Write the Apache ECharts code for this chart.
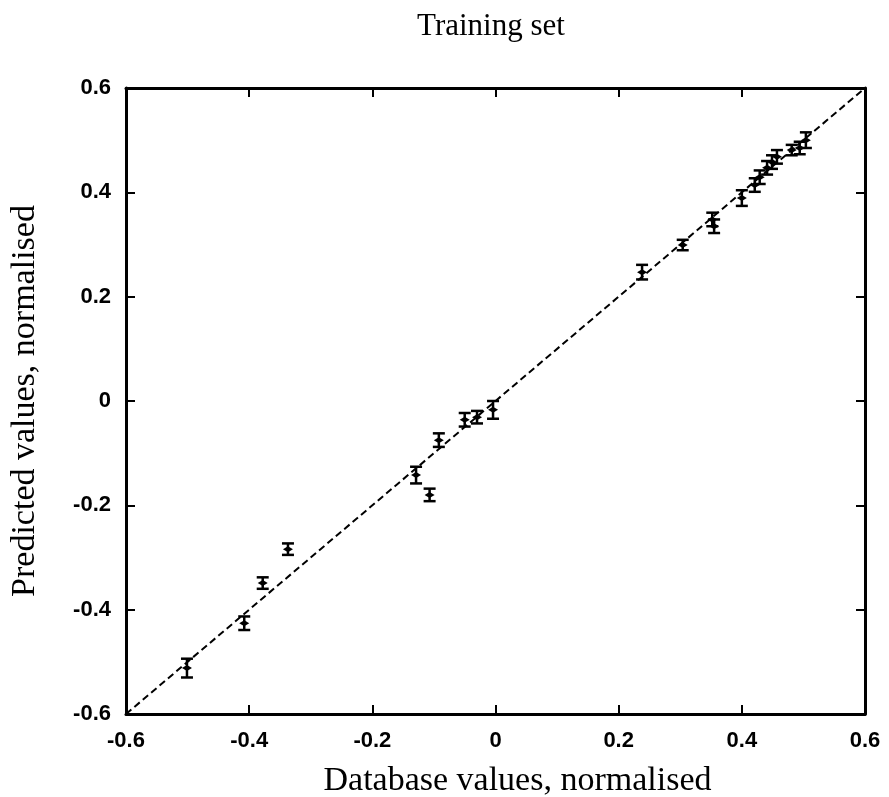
<!DOCTYPE html>
<html>
<head>
<meta charset="utf-8">
<script src="https://cdn.jsdelivr.net/npm/echarts@6/dist/echarts.min.js"></script>
<style>html,body{margin:0;padding:0;background:#fff;}#chart{width:889px;height:797px;}</style>
</head>
<body>
<div id="chart"></div>
<script>
var dbValues   = [-0.501, -0.408, -0.378, -0.337, -0.129, -0.107, -0.092, -0.050, -0.030, -0.004, 0.238, 0.304, 0.352, 0.355, 0.400, 0.421, 0.429, 0.441, 0.449, 0.457, 0.481, 0.494, 0.504];
var predValues = [-0.512, -0.426, -0.349, -0.284, -0.142, -0.180, -0.075, -0.036, -0.031, -0.017, 0.247, 0.299, 0.348, 0.335, 0.389, 0.414, 0.429, 0.447, 0.458, 0.468, 0.481, 0.485, 0.500];
var errValues  = [0.018, 0.013, 0.011, 0.011, 0.016, 0.012, 0.013, 0.013, 0.012, 0.017, 0.014, 0.010, 0.013, 0.013, 0.015, 0.013, 0.013, 0.013, 0.013, 0.013, 0.010, 0.012, 0.015];
var identityLine = [[-0.6, -0.6], [0.6, 0.6]];
var titleText = 'Training set';
var xName = 'Database values, normalised';
var yName = 'Predicted values, normalised';

var points = dbValues.map(function (x, i) { return [x, predValues[i], errValues[i]]; });

var chart = echarts.init(document.getElementById('chart'));
var tickLabel = { fontFamily: 'Liberation Sans', fontWeight: 'bold', fontSize: 22, color: '#000' };
var fmt = function (v) { return v === 0 ? '0' : String(+v.toFixed(1)); };
var axisCommon = {
  type: 'value', min: -0.6, max: 0.6, interval: 0.2,
  axisLine: { show: true, onZero: false, lineStyle: { color: '#000', width: 3 } },
  axisTick: { show: true, inside: true, length: 9, lineStyle: { color: '#000', width: 2 } },
  splitLine: { show: false }
};
chart.setOption({
  animation: false,
  backgroundColor: '#fff',
  title: { text: titleText, left: 486, top: 6, textAlign: 'center',
    textStyle: { fontFamily: 'Liberation Serif', fontWeight: 'normal', fontSize: 31, color: '#000' } },
  grid: { left: 126, right: 24, top: 88, bottom: 83, containLabel: false, outerBoundsMode: 'none' },
  xAxis: [
    Object.assign({}, axisCommon, { position: 'bottom', name: xName, nameLocation: 'middle', nameGap: 50,
      nameTextStyle: { fontFamily: 'Liberation Serif', fontSize: 34, color: '#000', padding: [0, 0, 0, 44] },
      axisLabel: Object.assign({ margin: 16, formatter: fmt }, tickLabel) }),
    Object.assign({}, axisCommon, { position: 'top', axisLabel: { show: false } })
  ],
  yAxis: [
    Object.assign({}, axisCommon, { position: 'left', name: yName, nameLocation: 'middle', nameGap: 84,
      nameTextStyle: { fontFamily: 'Liberation Serif', fontSize: 34, color: '#000' },
      axisLabel: Object.assign({ margin: 15, formatter: fmt }, tickLabel) }),
    Object.assign({}, axisCommon, { position: 'right', axisLabel: { show: false } })
  ],
  series: [
    { type: 'line', data: identityLine, symbol: 'none', lineStyle: { color: '#000', width: 2, type: [7, 4] }, z: 2 },
    { type: 'custom', data: points, z: 3,
      renderItem: function (params, api) {
        var x = api.value(0), y = api.value(1), e = api.value(2);
        var c = api.coord([x, y]);
        var top = api.coord([x, y + e]);
        var bot = api.coord([x, y - e]);
        var hw = 6;
        var st = { stroke: '#000', lineWidth: 2.5 };
        return { type: 'group', children: [
          { type: 'line', shape: { x1: c[0], y1: top[1], x2: c[0], y2: bot[1] }, style: st },
          { type: 'line', shape: { x1: c[0] - hw, y1: top[1], x2: c[0] + hw, y2: top[1] }, style: st },
          { type: 'line', shape: { x1: c[0] - hw, y1: bot[1], x2: c[0] + hw, y2: bot[1] }, style: st },
          { type: 'polygon', shape: { points: [[c[0] - 5, c[1]], [c[0], c[1] - 3], [c[0] + 5, c[1]], [c[0], c[1] + 3]] }, style: { fill: '#000' } }
        ] };
      }
    }
  ]
});
</script>
</body>
</html>
